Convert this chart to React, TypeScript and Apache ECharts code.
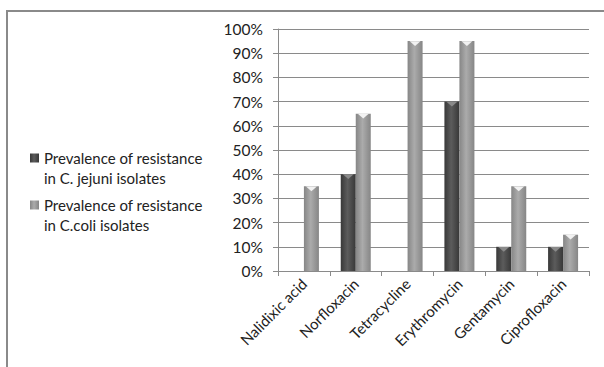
import React, { useEffect, useRef } from "react";
import * as echarts from "echarts";

const categories = ["Nalidixic acid", "Norfloxacin", "Tetracycline", "Erythromycin", "Gentamycin", "Ciprofloxacin"];
const jejuni = [0, 40, 0, 70, 10, 10];
const coli = [35, 65, 95, 95, 35, 15];
const seriesNames = [
  "Prevalence of resistance\nin C. jejuni isolates",
  "Prevalence of resistance\nin C.coli isolates",
];
const yTicks = { min: 0, max: 100, interval: 10 };

const FONT = "Lato, 'Open Sans', sans-serif";

function grad(edge: string, mid: string) {
  return new echarts.graphic.LinearGradient(0, 0, 1, 0, [
    { offset: 0, color: edge },
    { offset: 0.45, color: mid },
    { offset: 1, color: edge },
  ]);
}

export default function App() {
  const ref = useRef<HTMLDivElement>(null);
  useEffect(() => {
    if (!ref.current) return;
    const chart = echarts.init(ref.current, undefined, { renderer: "svg" });
    const capData = (arr: number[]) => arr.map((v) => (v > 0 ? v : "-"));
    chart.setOption({
      animation: false,
      backgroundColor: "#fff",
      textStyle: { fontFamily: FONT },
      graphic: [
        {
          type: "rect",
          z: -10,
          shape: { x: 7, y: 11, width: 700, height: 500 },
          style: { fill: "none", stroke: "#8a8a8a", lineWidth: 2 },
        },
      ],
      legend: {
        orient: "vertical",
        left: 25,
        top: 123,
        itemWidth: 9,
        itemHeight: 9,
        itemGap: -13,
        selectedMode: false,
        icon: "rect",
        data: seriesNames,
        formatter: (name: string) => "\n" + name,
        textStyle: {
          fontFamily: FONT,
          fontSize: 15,
          lineHeight: 20,
          color: "#222",
        },
      },
      grid: { left: 278, right: 15, top: 29, bottom: 96 },
      xAxis: {
        type: "category",
        data: categories,
        axisLine: { lineStyle: { color: "#8a8a8a" } },
        axisTick: { show: true, length: 5, lineStyle: { color: "#8a8a8a" } },
        axisLabel: { rotate: 45, interval: 0, fontSize: 15, color: "#222", margin: 10, fontFamily: FONT },
      },
      yAxis: {
        type: "value",
        min: yTicks.min,
        max: yTicks.max,
        interval: yTicks.interval,
        axisLine: { show: true, lineStyle: { color: "#8a8a8a" } },
        axisTick: { show: true, length: 5, lineStyle: { color: "#8a8a8a" } },
        splitLine: { lineStyle: { color: "#8a8a8a", width: 1 } },
        axisLabel: { formatter: "{value}%", fontSize: 15.5, color: "#222", margin: 15, fontFamily: FONT },
      },
      series: [
        {
          name: seriesNames[0],
          type: "bar",
          data: jejuni,
          barWidth: 15,
          barGap: "0%",
          itemStyle: { color: grad("#383838", "#5c5c5c") },
        },
        {
          name: seriesNames[1],
          type: "bar",
          data: coli,
          barWidth: 15,
          barGap: "0%",
          itemStyle: { color: grad("#868686", "#ababab") },
        },
        {
          name: "cap1",
          type: "pictorialBar",
          data: capData(jejuni),
          symbol: "triangle",
          symbolRotate: 180,
          symbolSize: [11, 5],
          symbolPosition: "end",
          symbolOffset: [-7.5, 0],
          z: 5,
          itemStyle: { color: "#8a8a8a" },
        },
        {
          name: "cap2",
          type: "pictorialBar",
          data: capData(coli),
          symbol: "triangle",
          symbolRotate: 180,
          symbolSize: [11, 5],
          symbolPosition: "end",
          symbolOffset: [7.5, 0],
          z: 5,
          itemStyle: { color: "#f2f2f2" },
        },
      ],
    });
    return () => chart.dispose();
  }, []);
  return <div ref={ref} style={{ width: 604, height: 367, position: "absolute", left: 0, top: 0 }} />;
}
